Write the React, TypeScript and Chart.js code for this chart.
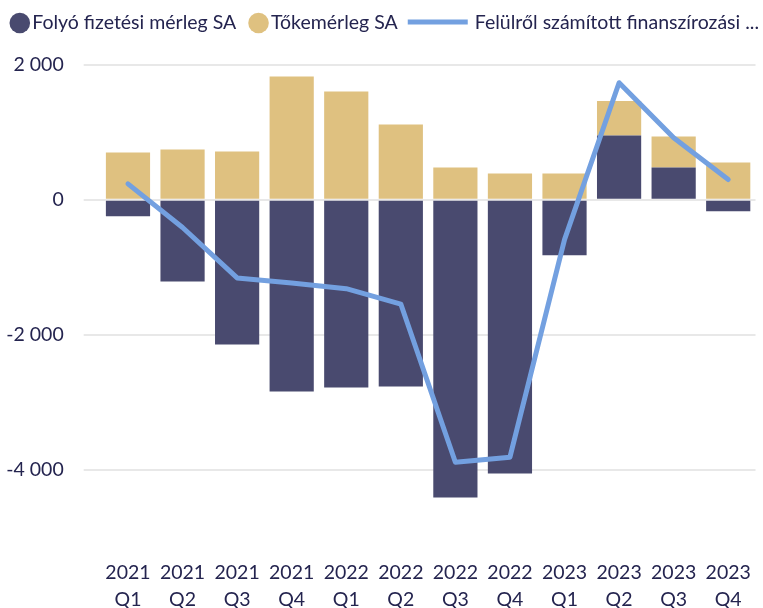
import React, { useEffect, useRef } from 'react';
import { Chart, registerables } from 'chart.js';
Chart.register(...registerables);

const years = ['2021', '2021', '2021', '2021', '2022', '2022', '2022', '2022', '2023', '2023', '2023', '2023'];
const quarters = ['Q1', 'Q2', 'Q3', 'Q4', 'Q1', 'Q2', 'Q3', 'Q4', 'Q1', 'Q2', 'Q3', 'Q4'];
const currentAccount = [-243, -1209, -2144, -2842, -2783, -2768, -4416, -4060, -822, 955, 480, -169];
const capitalAccount = [702, 747, 717, 1831, 1608, 1118, 480, 390, 390, 510, 460, 554];
const financing = [237, -410, -1158, -1233, -1317, -1545, -3891, -3817, -590, 1737, 920, 301];

const seriesNames = ['Folyó fizetési mérleg SA', 'Tőkemérleg SA', 'Felülről számított finanszírozási ...'];
const colors = ['#494a6f', '#dfc180', '#73a0e0'];
const TEXT = '#24244f';
const FONT = 'Lato';
const FS = 19.5;

export default function App() {
  const ref = useRef<HTMLCanvasElement>(null);
  useEffect(() => {
    if (!ref.current) return;
    const legendPlugin = {
      id: 'customLegend',
      afterDraw(chart: any) {
        const ctx = chart.ctx as CanvasRenderingContext2D;
        ctx.save();
        ctx.font = `${FS}px ${FONT}`;
        ctx.textBaseline = 'middle';
        ctx.textAlign = 'left';
        const y = 22.5;
        let x = 9.5;
        chart.data.datasets.forEach((ds: any, i: number) => {
          if (ds.type === 'line') {
            ctx.strokeStyle = ds.borderColor;
            ctx.lineWidth = 5;
            ctx.lineCap = 'butt';
            ctx.beginPath();
            ctx.moveTo(x, y - 0.5);
            ctx.lineTo(x + 60, y - 0.5);
            ctx.stroke();
            x += 67;
          } else {
            ctx.fillStyle = ds.backgroundColor;
            ctx.beginPath();
            ctx.arc(x + 10.3, y + 0.5, 10.3, 0, Math.PI * 2);
            ctx.fill();
            x += 22.7;
          }
          ctx.fillStyle = TEXT;
          ctx.fillText(ds.label, x, y);
          x += ctx.measureText(ds.label).width + (i === 0 ? 12 : 10);
        });
        ctx.restore();
      },
    };
    const chart = new Chart(ref.current, {
      type: 'bar',
      data: {
        labels: years.map((y, i) => [y, quarters[i]]),
        datasets: [
          {
            type: 'bar',
            label: seriesNames[0],
            data: currentAccount,
            backgroundColor: colors[0],
            stack: 'bars',
            order: 1,
            barPercentage: 0.81,
            categoryPercentage: 1,
          },
          {
            type: 'bar',
            label: seriesNames[1],
            data: capitalAccount,
            backgroundColor: colors[1],
            stack: 'bars',
            order: 1,
            barPercentage: 0.81,
            categoryPercentage: 1,
          },
          {
            type: 'line',
            label: seriesNames[2],
            data: financing,
            borderColor: colors[2],
            backgroundColor: colors[2],
            borderWidth: 5,
            pointRadius: 0,
            tension: 0,
            borderCapStyle: 'round',
            borderJoinStyle: 'round',
            stack: 'line',
            order: 0,
          } as any,
        ],
      },
      options: {
        responsive: false,
        animation: false,
        layout: { padding: { top: 65, left: 0, right: 7.5, bottom: 0 } },
        plugins: { legend: { display: false }, tooltip: { enabled: false } },
        scales: {
          x: {
            stacked: true,
            grid: { display: false, drawTicks: true, tickLength: 21.5 },
            border: { display: false },
            afterFit: (s: any) => { s.height = 71; },
            ticks: {
              color: TEXT,
              font: { family: FONT, size: FS, lineHeight: 1.42 },
              padding: 0,
              maxRotation: 0,
              autoSkip: false,
            },
          },
          y: {
            stacked: true,
            min: -5000,
            max: 2000,
            border: { display: false },
            afterFit: (s: any) => { s.width = 100.7; },
            grid: { color: '#e8e8e8', lineWidth: 2, tickLength: 17, drawTicks: true },
            ticks: {
              stepSize: 1000,
              color: TEXT,
              padding: 20,
              font: { family: FONT, size: FS },
              callback: (v: any) => {
                const n = Number(v);
                if (n % 2000 !== 0) return null;
                const s = Math.abs(n).toString().replace(/\B(?=(\d{3})+(?!\d))/g, ' ');
                return (n < 0 ? '-' : '') + s;
              },
            },
          },
        },
      },
      plugins: [legendPlugin],
    });
    return () => chart.destroy();
  }, []);
  return (
    <div style={{ position: 'fixed', left: 0, top: 0, width: 763, height: 608, background: '#fff' }}>
      <canvas ref={ref} width={763} height={608} style={{ display: 'block' }} />
    </div>
  );
}
